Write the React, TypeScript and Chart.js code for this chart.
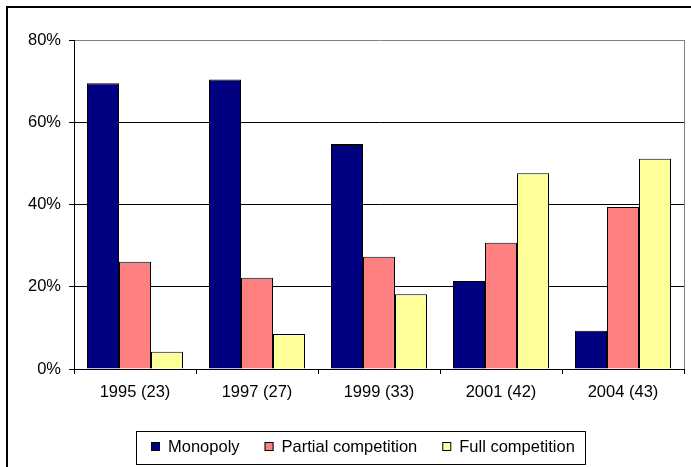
import React, { useEffect, useRef } from "react";
import { Chart, registerables } from "chart.js";

Chart.register(...registerables);

const categories = ["1995 (23)", "1997 (27)", "1999 (33)", "2001 (42)", "2004 (43)"];
const monopoly = [69.5, 70.4, 54.7, 21.4, 9.3];
const partialCompetition = [26.1, 22.2, 27.3, 30.7, 39.4];
const fullCompetition = [4.2, 8.5, 18.2, 47.6, 51.1];
const seriesNames = ["Monopoly", "Partial competition", "Full competition"];
const seriesColors = ["#000080", "#FF8080", "#FFFF99"];
const yMin = 0;
const yMax = 80;
const yStep = 20;

const FONT = '"Liberation Sans", Arial, sans-serif';
const FONT_SIZE = 16.5;

const framePlugin = {
  id: "frame",
  beforeDraw(chart: any) {
    const { ctx, width, height } = chart;
    ctx.save();
    ctx.fillStyle = "#ffffff";
    ctx.fillRect(0, 0, width, height);
    ctx.restore();
  },
  afterDraw(chart: any) {
    const { ctx, width, height, chartArea } = chart;
    ctx.save();
    // outer chart border (top + left)
    ctx.fillStyle = "#000000";
    ctx.fillRect(6, 6, width - 6, 2);
    ctx.fillRect(6, 6, 2, height - 6);
    // plot area right border (gray)
    ctx.strokeStyle = "#808080";
    ctx.lineWidth = 1;
    ctx.beginPath();
    ctx.moveTo(Math.round(chartArea.right) + 0.5, chartArea.top);
    ctx.lineTo(Math.round(chartArea.right) + 0.5, chartArea.bottom);
    ctx.stroke();

    // legend
    ctx.font = FONT_SIZE + "px " + FONT;
    const sq = 9;
    const gapSqText = 8;
    const gapItems = 25;
    const padL = 15;
    const padR = 10;
    const widths = seriesNames.map((n) => ctx.measureText(n).width);
    let total = padL + padR + gapItems * (seriesNames.length - 1);
    widths.forEach((w) => (total += sq + gapSqText + w));
    const boxLeft = Math.round(360 - total / 2);
    const boxTop = 431;
    const boxH = 33;
    ctx.fillStyle = "#ffffff";
    ctx.fillRect(boxLeft, boxTop, total, boxH);
    ctx.strokeStyle = "#000000";
    ctx.lineWidth = 1;
    ctx.strokeRect(boxLeft + 0.5, boxTop + 0.5, Math.round(total), boxH);
    let x = boxLeft + padL;
    seriesNames.forEach((name, i) => {
      ctx.fillStyle = seriesColors[i];
      ctx.fillRect(x, 442, sq, sq);
      ctx.strokeStyle = "#000000";
      ctx.strokeRect(x + 0.5, 442.5, sq - 1, sq - 1);
      ctx.fillStyle = "#000000";
      ctx.textBaseline = "alphabetic";
      ctx.textAlign = "left";
      ctx.fillText(name, x + sq + gapSqText, 452);
      x += sq + gapSqText + widths[i] + gapItems;
    });
    ctx.restore();
  },
};

export default function App() {
  const canvasRef = useRef<HTMLCanvasElement | null>(null);

  useEffect(() => {
    const canvas = canvasRef.current;
    if (!canvas) return;
    const seriesData = [monopoly, partialCompetition, fullCompetition];
    const chart = new Chart(canvas, {
      type: "bar",
      data: {
        labels: categories,
        datasets: seriesNames.map((name, i) => ({
          label: name,
          data: seriesData[i],
          backgroundColor: seriesColors[i],
          borderColor: "#000000",
          borderWidth: 1,
          categoryPercentage: 0.787,
          barPercentage: 1.0,
        })),
      },
      options: {
        responsive: false,
        animation: false,
        layout: { padding: { left: 0, top: 40, right: 7, bottom: 58 } },
        plugins: {
          legend: { display: false },
          tooltip: { enabled: false },
        },
        scales: {
          x: {
            grid: {
              display: true,
              drawOnChartArea: false,
              drawTicks: true,
              tickLength: 5,
              color: "#000000",
              tickColor: "#000000",
              offset: true,
            },
            border: { display: true, color: "#000000", width: 1 },
            ticks: {
              color: "#000000",
              font: { family: FONT, size: FONT_SIZE },
              padding: 9,
              maxRotation: 0,
            },
            afterFit: (scale: any) => {
              scale.height = 40;
            },
          },
          y: {
            min: yMin,
            max: yMax,
            grid: {
              color: (c: any) => (c.tick && c.tick.value === yMax ? "#808080" : "#000000"),
              tickColor: "#000000",
              tickLength: 5,
              drawTicks: true,
            },
            border: { display: true, color: "#000000", width: 1 },
            ticks: {
              stepSize: yStep,
              color: "#000000",
              font: { family: FONT, size: FONT_SIZE },
              padding: 8,
              callback: (v: any) => v + "%",
            },
            afterFit: (scale: any) => {
              scale.width = 74;
            },
          },
        },
      },
      plugins: [framePlugin],
    });
    return () => chart.destroy();
  }, []);

  return (
    <div style={{ position: "fixed", left: 0, top: 0, width: 691, height: 467, background: "#fff" }}>
      <canvas ref={canvasRef} width={691} height={467} style={{ display: "block" }} />
    </div>
  );
}
